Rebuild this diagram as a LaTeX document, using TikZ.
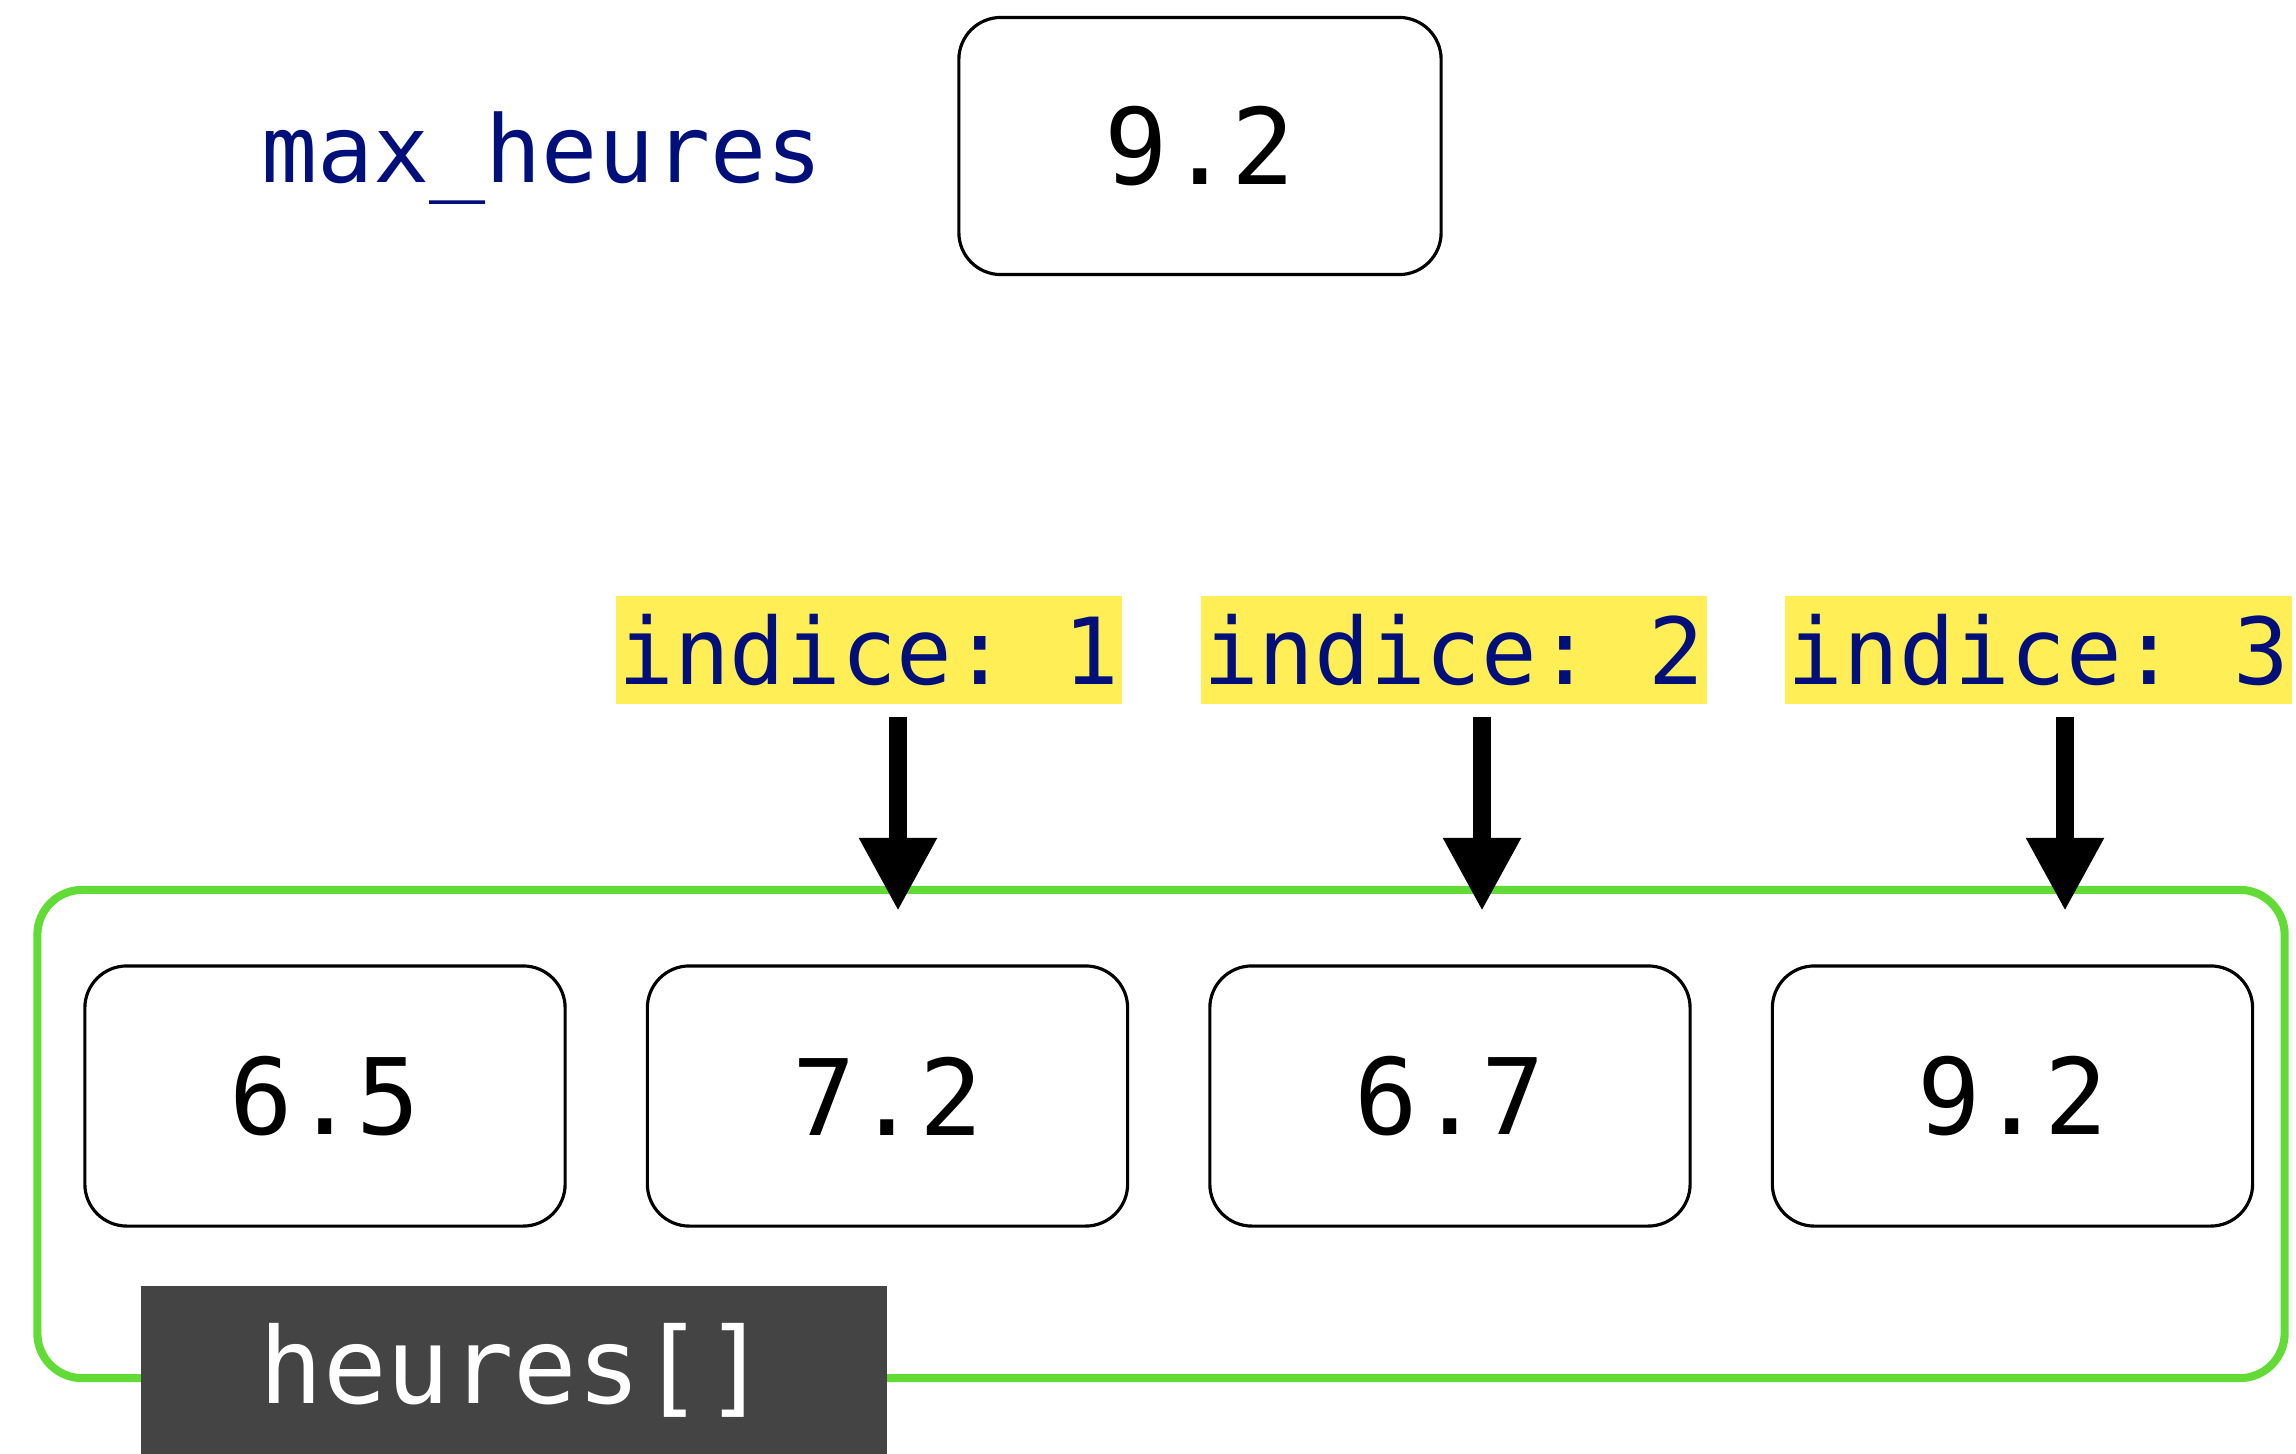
\documentclass[tikz,border=0pt]{standalone}
\usepackage{fontspec}
\setmonofont{DejaVu Sans Mono}
\usepackage{xcolor}
\usetikzlibrary{arrows.meta,positioning}
\definecolor{idxblue}{RGB}{0,15,122}
\definecolor{idxyellow}{RGB}{255,238,85}
\definecolor{framegreen}{RGB}{99,219,54}
\definecolor{tagdark}{RGB}{68,68,68}
\newcommand{\valfont}{\ttfamily\fontsize{30pt}{36pt}\selectfont}
\newcommand{\idxfont}{\ttfamily\fontsize{26.3pt}{31pt}\selectfont}
\newcommand{\varfont}{\ttfamily\fontsize{26.5pt}{31pt}\selectfont}
\newcommand{\tagfont}{\ttfamily\fontsize{30pt}{36pt}\selectfont}

\begin{document}
\begin{tikzpicture}[x=0.01cm, y=-0.01cm,
      >={Triangle[length=7.3mm, width=7.3mm]},
      cell/.style={draw, rounded corners=4.2mm, line width=0.9pt, inner sep=0pt,
                   minimum width=4.8cm, minimum height=2.6cm, font=\valfont},
      idx/.style={fill=idxyellow, text=idxblue, font=\idxfont, inner sep=0pt,
                  minimum width=5.06cm, minimum height=1.07cm},
      ptr/.style={->, line width=5pt, shorten <=1.3mm},
      frame/.style={draw=framegreen, line width=2.3pt, rounded corners=4.5mm,
                    minimum width=22.46cm, minimum height=4.88cm},
      tag/.style={fill=tagdark, text=white, font=\tagfont, inner sep=0pt,
                  minimum width=7.46cm, minimum height=1.67cm}
    ]
    \useasboundingbox (0,0) rectangle (2296,1454);

    % the single variable
    \node[cell, minimum width=4.82cm, minimum height=2.57cm] (maxval) at (1200,146) {9.2};
    \node[font=\varfont, text=idxblue, anchor=base] (maxname) at (542,182) {max\_heures};

    % the array and its cells
    \node[frame] (arr) at (1161,1134) {};
    \node[cell]                    (c1) at (325,1096) {6.5};
    \node[cell, right=0.79cm of c1] (c2) {7.2};
    \node[cell, right=0.79cm of c2] (c3) {6.7};
    \node[cell, right=0.79cm of c3] (c4) {9.2};
    \node[tag] (name) at (514,1370) {heures[]};

    % index labels
    \node[idx]                     (i1) at (869,650) {indice: 1};
    \node[idx, right=0.77cm of i1] (i2) {indice: 2};
    \node[idx, right=0.77cm of i2] (i3) {indice: 3};

    \foreach \i/\x in {1/898, 2/1482, 3/2065}{
      \coordinate (p\i) at (\x,911);
      \draw[ptr] (i\i.south -| p\i) -- (p\i);
    }
  \end{tikzpicture}
\end{document}
